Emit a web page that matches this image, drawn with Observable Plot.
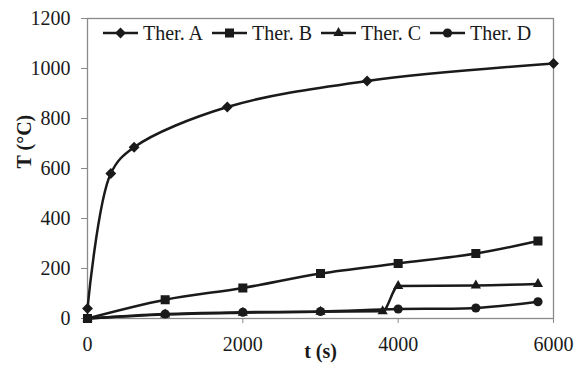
<!DOCTYPE html>
<html>
<head>
<meta charset="utf-8">
<script src="https://cdn.jsdelivr.net/npm/d3@7"></script>
<script src="https://cdn.jsdelivr.net/npm/@observablehq/plot@0.6"></script>
</head>
<body style="margin:0;padding:0;background:#fff">
<div id="wrap" style="position:relative;width:580px;height:368px;font-family:'Liberation Serif';"></div>
<script>
const seriesNames = ["Ther. A", "Ther. B", "Ther. C", "Ther. D"];
const symbols = ["diamond2", "square", "triangle", "circle"];
const markerR = [4.9, 5.1, 3.8, 4.6];
const curves = ["catmull-rom", "catmull-rom", "monotone-x", "catmull-rom"];

const tA = [0, 300, 600, 1800, 3600, 6000];
const vA = [40, 580, 685, 846, 950, 1020];
const tB = [0, 1000, 2000, 3000, 4000, 5000, 5800];
const vB = [0, 75, 122, 180, 220, 260, 310];
const tC = [0, 1000, 2000, 3000, 3800, 4000, 5000, 5800];
const vC = [0, 16, 23, 27, 29, 130, 132, 138];
const tD = [0, 1000, 2000, 3000, 4000, 5000, 5800];
const vD = [0, 18, 25, 28, 38, 42, 67];

const xTicks = [0, 2000, 4000, 6000];
const yTicks = [0, 200, 400, 600, 800, 1000, 1200];

const times = [tA, tB, tC, tD];
const values = [vA, vB, vC, vD];
const data = [];
seriesNames.forEach((s, i) => times[i].forEach((t, j) => data.push({series: s, t, v: values[i][j]})));

const ink = "#1a1a1a";
const gray = "#8a8a8a";
const font = "Liberation Serif";

const chart = Plot.plot({
  width: 580, height: 368,
  marginLeft: 87, marginRight: 27, marginTop: 18, marginBottom: 50,
  style: {fontFamily: font, fontSize: "20px", color: ink, background: "#fff"},
  x: {domain: [0, 6000]},
  y: {domain: [0, 1200]},
  symbol: {domain: seriesNames, range: symbols},
  marks: [
    Plot.frame({stroke: gray, strokeWidth: 1.3}),
    Plot.axisY({ticks: yTicks, tickSize: 6, tickPadding: 11, stroke: gray, label: null, fontFamily: font, fontSize: 20, tickFormat: d => String(d)}),
    Plot.axisX({ticks: xTicks, tickSize: 5, tickPadding: 13, stroke: gray, label: null, fontFamily: font, fontSize: 20, tickFormat: d => String(d)}),
    ...seriesNames.map((s, i) => Plot.line(data.filter(d => d.series === s), {x: "t", y: "v", curve: curves[i], stroke: ink, strokeWidth: 2.5})),
    ...seriesNames.map((s, i) => Plot.dot(data.filter(d => d.series === s), {x: "t", y: "v", symbol: "series", r: markerR[i], fill: ink, stroke: "none"})),
    Plot.text(["T (°C)"], {frameAnchor: "left", dx: -63, rotate: -90, fontWeight: "bold", fontSize: 20, fontFamily: font, fill: ink}),
    Plot.text(["t (s)"], {frameAnchor: "bottom", dy: 39, fontWeight: "bold", fontSize: 20, fontFamily: font, fill: ink})
  ]
});
chart.setAttribute("font-family", font);
chart.querySelectorAll("text").forEach(t => t.style.fontFamily = "'Liberation Serif'");
const wrap = document.getElementById("wrap");
wrap.appendChild(chart);

// legend
const legend = document.createElement("div");
legend.setAttribute("style", "position:absolute;left:103px;top:21px;height:24px;display:flex;align-items:center;font-family:'Liberation Serif';font-size:20px;color:#1a1a1a;");
const d3sym = {diamond2: d3.symbolDiamond2, square: d3.symbolSquare, triangle: d3.symbolTriangle, circle: d3.symbolCircle};
seriesNames.forEach((s, i) => {
  const item = document.createElement("div");
  item.setAttribute("style", "display:flex;align-items:center;margin-right:9px;");
  const svg = d3.create("svg").attr("width", 35).attr("height", 20).attr("style", "margin-right:5px;");
  svg.append("line").attr("x1", 0).attr("x2", 35).attr("y1", 10).attr("y2", 10).attr("stroke", ink).attr("stroke-width", 2.4);
  svg.append("path").attr("transform", "translate(17.5,10)")
    .attr("d", d3.symbol(d3sym[symbols[i]], Math.PI * markerR[i] * markerR[i])())
    .attr("fill", ink);
  item.appendChild(svg.node());
  const span = document.createElement("span");
  span.textContent = s;
  item.appendChild(span);
  legend.appendChild(item);
});
wrap.appendChild(legend);
</script>
</body>
</html>
